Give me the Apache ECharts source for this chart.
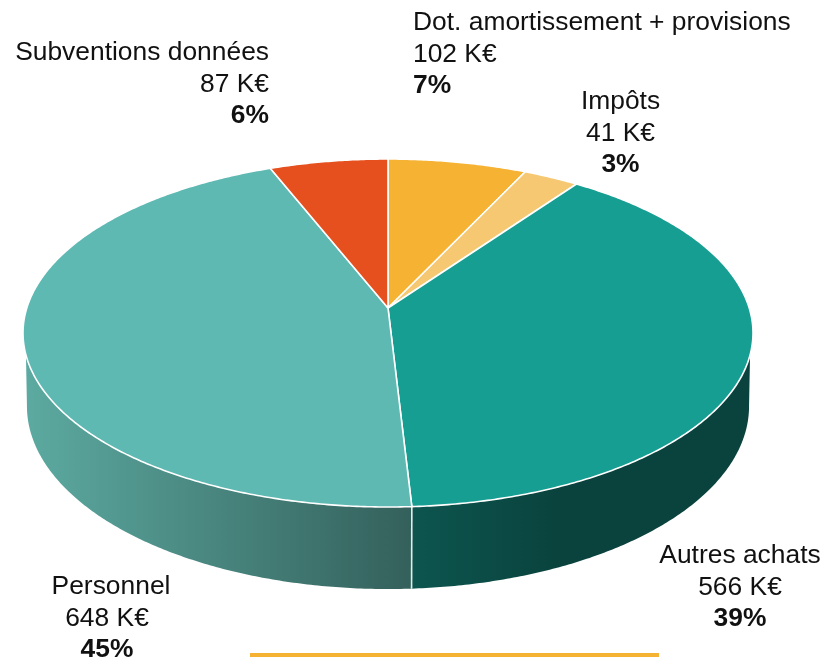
<!DOCTYPE html>
<html>
<head>
<meta charset="utf-8">
<style>html,body{margin:0;padding:0;background:#fff}#c{width:823px;height:657px}</style>
<script src="https://cdn.jsdelivr.net/npm/echarts@6/dist/echarts.min.js"></script>
</head>
<body>
<div id="c"></div>
<script>
const categories = ['Dot. amortissement + provisions', 'Impôts', 'Autres achats', 'Personnel', 'Subventions données'];
const valuesKE = [102, 41, 566, 648, 87];
const percents = [7, 3, 39, 45, 6];

const faceColors = ['#F5B233', '#F6C871', '#179E92', '#5EB9B3', '#E6501E'];
const labelLayout = [
  { x: 413, y: 23, align: 'left', dx: 0 },
  { x: 620.5, y: 102, align: 'center', dx: 0 },
  { x: 740, y: 556, align: 'center', dx: 0 },
  { x: 111, y: 587, align: 'center', dx: -4 },
  { x: 269, y: 53, align: 'right', dx: 0 }
];

// Perspective projection of the pie disc
const CX = 388, P = 0.1437;
const TOP = { y: 308, kx: 361.2, ky: 170.4 };
const BASE = { y: 380, kx: 357.3, ky: 179 };
const deg = Math.PI / 180;
function project(t, plane) {
  const u = Math.sin(t), v = Math.cos(t), d = 1 + P * v;
  return [CX + plane.kx * u / d, plane.y - plane.ky * v / d];
}
function arc(a, b, plane) {
  const pts = [], n = Math.max(2, Math.ceil(Math.abs(b - a) / (0.5 * deg)));
  for (let i = 0; i <= n; i++) pts.push(project(a + (b - a) * i / n, plane));
  return pts;
}
const total = valuesKE.reduce((s, v) => s + v, 0);
let running = 0;
const sliceData = valuesKE.map((v, i) => {
  const start = running / total * 2 * Math.PI;
  running += v;
  return { name: categories[i], value: [start, running / total * 2 * Math.PI, v, percents[i], i] };
});

// Visible limits of the rim
const RIM_TOP = [105.4 * deg, 254.6 * deg], RIM_BASE = [98.2 * deg, 261.8 * deg];
const sideGradients = {
  2: [{ x: 412, c: '#0D554F' }, { x: 565, c: '#0A423D' }],
  3: [{ x: 25, c: '#5CAAA1' }, { x: 412, c: '#34605B' }]
};
function gradient(g) {
  const a = g[0], b = g[1];
  return new echarts.graphic.LinearGradient(a.x, 0, b.x, 0, [
    { offset: 0, color: a.c }, { offset: 1, color: b.c }
  ], true);
}

function renderSide(params, api) {
  const a = api.value(0), b = api.value(1), i = api.value(4);
  const s1 = Math.max(a, RIM_TOP[0]), e1 = Math.min(b, RIM_TOP[1]);
  const s2 = Math.max(a, RIM_BASE[0]), e2 = Math.min(b, RIM_BASE[1]);
  if (e1 <= s1) return null;
  const pts = arc(s1, e1, TOP).concat(arc(e2, s2, BASE));
  return { type: 'polygon', shape: { points: pts }, style: { fill: sideGradients[i] ? gradient(sideGradients[i]) : '#000' } };
}
function renderDivider(params, api) {
  const b = api.value(1);
  if (b <= RIM_TOP[0] || b >= RIM_TOP[1]) return null;
  const p = project(b, TOP), q = project(b, BASE);
  return { type: 'line', shape: { x1: p[0], y1: p[1], x2: q[0], y2: q[1] }, style: { stroke: '#E4ECEB', lineWidth: 1.6 } };
}
function renderFace(params, api) {
  const a = api.value(0), b = api.value(1), i = api.value(4);
  const pts = [[CX, TOP.y]].concat(arc(a, b, TOP));
  return { type: 'polygon', shape: { points: pts }, style: { fill: faceColors[i], stroke: '#fff', lineWidth: 1.6, lineJoin: 'round' } };
}
function renderLabel(params, api) {
  const i = api.value(4), l = labelLayout[i];
  const base = { fontFamily: 'Liberation Sans, Arial, sans-serif', fontSize: 26.4, fill: '#111', align: l.align, verticalAlign: 'middle' };
  const lines = [categories[i], api.value(2) + ' K€', api.value(3) + '%'];
  return {
    type: 'group',
    children: lines.map((t, k) => ({
      type: 'text', x: l.x + (k > 0 ? l.dx : 0), y: l.y + k * 31.5,
      style: Object.assign({}, base, { text: t, fontWeight: k === 2 ? 'bold' : 'normal' })
    }))
  };
}

const chart = echarts.init(document.getElementById('c'), null, { renderer: 'canvas' });
chart.setOption({
  animation: false,
  backgroundColor: '#fff',
  graphic: [{ type: 'rect', shape: { x: 250, y: 653, width: 409, height: 4 }, style: { fill: '#F5B233' } }],
  series: [
    { type: 'custom', coordinateSystem: 'none', silent: true, renderItem: renderSide, data: sliceData, z: 1 },
    { type: 'custom', coordinateSystem: 'none', silent: true, renderItem: renderDivider, data: sliceData, z: 2 },
    { type: 'custom', coordinateSystem: 'none', silent: true, renderItem: renderFace, data: sliceData, z: 3 },
    { type: 'custom', coordinateSystem: 'none', silent: true, renderItem: renderLabel, data: sliceData, z: 4 }
  ]
});
</script>
</body>
</html>
